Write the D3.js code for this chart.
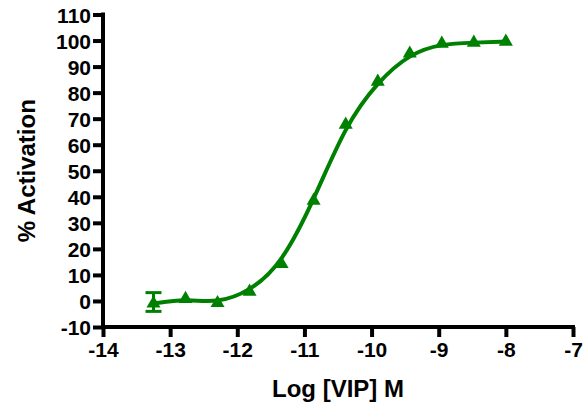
<!DOCTYPE html>
<html>
<head>
<meta charset="utf-8">
<script src="https://cdn.jsdelivr.net/npm/d3@7"></script>
<style>
  body { margin: 0; background: #fff; }
  text { font-family: "Liberation Sans", Arial, sans-serif; font-weight: bold; fill: #000; }
</style>
</head>
<body>
<svg id="chart" width="587" height="406"></svg>
<script>
// Log [VIP] M vs % activation
const logDose = [-13.248, -12.771, -12.294, -11.817, -11.34, -10.863, -10.385, -9.908, -9.431, -8.954, -8.477, -8.0];
const activation = [-1.0, 0.8, -0.8, 3.6, 14.2, 38.5, 67.7, 84.2, 95.0, 98.8, 99.2, 99.6];
const errUpper = [3.2, null, null, null, null, null, null, null, null, null, null, null];
const errLower = [-4.0, null, null, null, null, null, null, null, null, null, null, null];
const xTicks = [-14, -13, -12, -11, -10, -9, -8, -7];
const yTicks = [-10, 0, 10, 20, 30, 40, 50, 60, 70, 80, 90, 100, 110];

const green = '#008000';
const svg = d3.select('#chart');
const m = { left: 103, right: 573, top: 14.5, bottom: 327 };

const x = d3.scaleLinear().domain([-14, -7]).range([m.left, m.right]);
const y = d3.scaleLinear().domain([-10, 110]).range([m.bottom, m.top]);

// axes
const xAxis = svg.append('g')
    .attr('transform', `translate(0,${m.bottom})`)
    .call(d3.axisBottom(x).tickValues(xTicks).tickSize(10).tickPadding(4).tickFormat(d => String(d)));
const yAxis = svg.append('g')
    .attr('transform', `translate(${m.left},0)`)
    .call(d3.axisLeft(y).tickValues(yTicks).tickSize(10).tickPadding(2).tickFormat(d => String(d)));

[xAxis, yAxis].forEach(a => {
    a.attr('font-family', '"Liberation Sans", Arial, sans-serif')
        .attr('font-size', 21)
        .attr('font-weight', 'bold');
    a.select('.domain').attr('stroke', '#000').attr('stroke-width', 4);
    a.selectAll('.tick line').attr('stroke', '#000').attr('stroke-width', 4);
    a.selectAll('.tick text').attr('fill', '#000');
});
xAxis.selectAll('.tick text').attr('dy', '0.78em');
yAxis.selectAll('.tick text').attr('dy', '0.36em');
xAxis.select('.domain').attr('d', `M${m.left - 2},0H${m.right + 2}`);
yAxis.select('.domain').attr('d', `M0,${m.bottom + 2}V${m.top - 2}`);

// smooth curve through the data
const line = d3.line()
    .x((d, i) => x(logDose[i]))
    .y(d => y(d))
    .curve(d3.curveBasis);

svg.append('path')
    .datum(activation)
    .attr('d', line)
    .attr('fill', 'none')
    .attr('stroke', green)
    .attr('stroke-width', 4);

// error bars
logDose.forEach((lx, i) => {
    if (errUpper[i] == null) return;
    const cx = x(lx);
    svg.append('line')
        .attr('x1', cx).attr('x2', cx)
        .attr('y1', y(errUpper[i])).attr('y2', y(errLower[i]))
        .attr('stroke', green).attr('stroke-width', 3);
    [errUpper[i], errLower[i]].forEach(v => {
        svg.append('line')
            .attr('x1', cx - 8).attr('x2', cx + 8)
            .attr('y1', y(v)).attr('y2', y(v))
            .attr('stroke', green).attr('stroke-width', 3);
    });
});

// triangle markers
const tri = d3.symbol().type(d3.symbolTriangle).size(85);
svg.append('g')
    .selectAll('path')
    .data(activation)
    .join('path')
    .attr('d', tri)
    .attr('transform', (d, i) => `translate(${x(logDose[i])},${y(d)})`)
    .attr('fill', green);

// axis titles
svg.append('text')
    .attr('x', (m.left + m.right) / 2)
    .attr('y', 397)
    .attr('text-anchor', 'middle')
    .style('font-size', '24px')
    .text('Log [VIP] M');

svg.append('text')
    .attr('transform', `translate(35,${(m.top + m.bottom) / 2}) rotate(-90)`)
    .attr('text-anchor', 'middle')
    .style('font-size', '24px')
    .text('% Activation');
</script>
</body>
</html>
